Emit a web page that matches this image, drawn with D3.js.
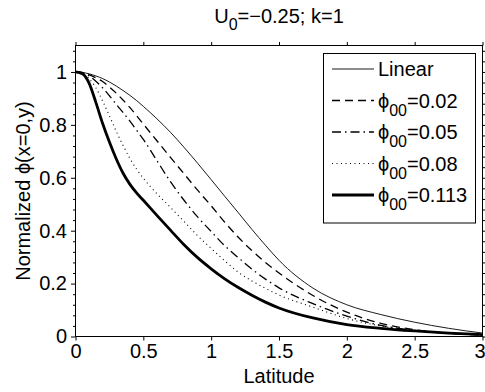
<!DOCTYPE html>
<html>
<head>
<meta charset="utf-8">
<script src="https://cdn.jsdelivr.net/npm/d3@7"></script>
<style>
body { margin: 0; background: #fff; }
svg { display: block; font-family: "Liberation Sans", Arial, sans-serif; }
</style>
</head>
<body>
<div id="chart"></div>
<script>
// data
const latitude = [0, 0.05, 0.1, 0.15, 0.2, 0.25, 0.3, 0.35, 0.4, 0.45, 0.5, 0.6, 0.7, 0.8, 0.9, 1.0,
                  1.1, 1.2, 1.3, 1.4, 1.5, 1.75, 2.0, 2.25, 2.5, 2.75, 3.0];
const phiLinear = [1, 0.998, 0.993, 0.985, 0.975, 0.962, 0.947, 0.93, 0.912, 0.892, 0.87, 0.823, 0.772, 0.715, 0.655, 0.593,
                   0.53, 0.468, 0.405, 0.345, 0.288, 0.183, 0.12, 0.083, 0.054, 0.031, 0.013];
const phi002 = [1, 0.998, 0.99, 0.978, 0.964, 0.943, 0.92, 0.894, 0.866, 0.835, 0.803, 0.74, 0.677, 0.615, 0.553, 0.494,
                0.432, 0.375, 0.325, 0.28, 0.24, 0.155, 0.092, 0.05, 0.026, 0.013, 0.006];
const phi005 = [1, 0.997, 0.985, 0.965, 0.94, 0.91, 0.878, 0.847, 0.815, 0.78, 0.745, 0.665, 0.585, 0.515, 0.452, 0.397,
                0.343, 0.298, 0.255, 0.217, 0.184, 0.124, 0.077, 0.042, 0.023, 0.012, 0.005];
const phi008 = [1, 0.995, 0.975, 0.94, 0.89, 0.834, 0.776, 0.723, 0.674, 0.633, 0.598, 0.54, 0.488, 0.435, 0.381, 0.333,
                0.286, 0.243, 0.21, 0.182, 0.157, 0.111, 0.068, 0.04, 0.022, 0.012, 0.006];
const phi0113 = [1, 0.993, 0.958, 0.885, 0.805, 0.735, 0.672, 0.618, 0.576, 0.543, 0.515, 0.458, 0.402, 0.347, 0.298, 0.256,
                 0.218, 0.185, 0.156, 0.13, 0.108, 0.07, 0.045, 0.031, 0.021, 0.013, 0.007];

const xTicks = [0, 0.5, 1, 1.5, 2, 2.5, 3];
const yTicks = [0, 0.2, 0.4, 0.6, 0.8, 1];
const yMinor = [0.04, 0.08, 0.12, 0.16, 0.24, 0.28, 0.32, 0.36, 0.44, 0.48, 0.52, 0.56,
                0.64, 0.68, 0.72, 0.76, 0.84, 0.88, 0.92, 0.96, 1.04, 1.08];
const legendNames = ["Linear", "0.02", "0.05", "0.08", "0.113"];

const width = 485, height = 392;
const plotLeft = 75.5, plotRight = 482.5, plotTop = 45.5, plotBottom = 336.5;
const fontSize = 20;

const svg = d3.select("#chart").append("svg")
    .attr("width", width)
    .attr("height", height);

const x = d3.scaleLinear().domain([0, 3]).range([plotLeft, plotRight]);
const y = d3.scaleLinear().domain([0, 1.1]).range([plotBottom, plotTop]);

// 線のスタイル
const series = [
    { values: phiLinear, width: 0.9, dash: null },
    { values: phi002, width: 1.3, dash: "8,5" },
    { values: phi005, width: 1.3, dash: "9,4,1.5,4" },
    { values: phi008, width: 1.1, dash: "1,3.5" },
    { values: phi0113, width: 2.8, dash: null }
];

const line = d3.line()
    .x((d, i) => x(latitude[i]))
    .y(d => y(d))
    .curve(d3.curveMonotoneX);

const plot = svg.append("g");
plot.append("defs").append("clipPath").attr("id", "clip")
    .append("rect").attr("x", plotLeft).attr("y", plotTop)
    .attr("width", plotRight - plotLeft).attr("height", plotBottom - plotTop);

plot.selectAll(".series")
    .data(series)
    .enter()
    .append("path")
    .attr("class", "series")
    .attr("clip-path", "url(#clip)")
    .attr("d", d => line(d.values))
    .attr("fill", "none")
    .attr("stroke", "#000")
    .attr("stroke-width", d => d.width)
    .attr("stroke-dasharray", d => d.dash);

// 軸
function styleAxis(g) {
    g.select(".domain").remove();
    g.selectAll("line").attr("stroke", "#000").attr("stroke-width", 1);
    g.selectAll("text").attr("fill", "#000").style("font-size", fontSize + "px");
}

const xAxisG = svg.append("g")
    .attr("transform", `translate(0,${plotBottom})`)
    .call(d3.axisBottom(x).tickValues(xTicks).tickSize(4).tickPadding(3).tickFormat(d => d))
    .call(styleAxis);
// 右端の「3」は枠からはみ出さないよう寄せる
xAxisG.selectAll(".tick text").filter(d => d === 3)
    .attr("text-anchor", "end").attr("x", 2.5);

svg.append("g")
    .attr("transform", `translate(0,${plotTop})`)
    .call(d3.axisTop(x).tickValues(xTicks).tickSize(3.5).tickFormat(""))
    .call(styleAxis);
svg.append("g")
    .attr("transform", `translate(${plotLeft},0)`)
    .call(d3.axisLeft(y).tickValues(yTicks).tickSize(4.5).tickPadding(4).tickFormat(d => d))
    .call(styleAxis);
svg.append("g")
    .attr("transform", `translate(${plotLeft},0)`)
    .call(d3.axisLeft(y).tickValues(yMinor).tickSize(2.5).tickFormat(""))
    .call(styleAxis);
svg.append("g")
    .attr("transform", `translate(${plotRight},0)`)
    .call(d3.axisRight(y).tickValues(yTicks).tickSize(4.5).tickFormat(""))
    .call(styleAxis);
svg.append("g")
    .attr("transform", `translate(${plotRight},0)`)
    .call(d3.axisRight(y).tickValues(yMinor).tickSize(2.5).tickFormat(""))
    .call(styleAxis);

// 枠
svg.append("rect")
    .attr("x", plotLeft).attr("y", plotTop)
    .attr("width", plotRight - plotLeft).attr("height", plotBottom - plotTop)
    .attr("fill", "none").attr("stroke", "#000").attr("stroke-width", 1);

// タイトル
const title = svg.append("text")
    .attr("x", (plotLeft + plotRight) / 2)
    .attr("y", 23)
    .attr("text-anchor", "middle")
    .style("font-size", fontSize + "px");
title.append("tspan").text("U");
title.append("tspan").attr("dy", 7).style("font-size", "16px").text("0");
title.append("tspan").attr("dy", -7).text("=\u22120.25; k=1");

// 軸ラベル
svg.append("text")
    .attr("x", (plotLeft + plotRight) / 2)
    .attr("y", 383)
    .attr("text-anchor", "middle")
    .style("font-size", fontSize + "px")
    .text("Latitude");

svg.append("text")
    .attr("transform", `translate(30,${(plotTop + plotBottom) / 2}) rotate(-90)`)
    .attr("text-anchor", "middle")
    .style("font-size", fontSize + "px")
    .text("Normalized \u03d5(x=0,y)");

// 凡例
const legend = svg.append("g");
legend.append("rect")
    .attr("x", 323.5).attr("y", 53.5)
    .attr("width", 152).attr("height", 169.5)
    .attr("fill", "#fff").attr("stroke", "#000").attr("stroke-width", 1);

const rowY = i => 69 + i * 31.5;

legendNames.forEach((name, i) => {
    const s = series[i];
    legend.append("line")
        .attr("x1", 332).attr("x2", 374)
        .attr("y1", rowY(i)).attr("y2", rowY(i))
        .attr("stroke", "#000")
        .attr("stroke-width", s.width)
        .attr("stroke-dasharray", s.dash);
    const t = legend.append("text")
        .attr("x", 378)
        .attr("y", rowY(i) + 7)
        .style("font-size", fontSize + "px");
    if (i === 0) {
        t.text(name);
    } else {
        t.append("tspan").text("\u03d5");
        t.append("tspan").attr("dy", 8).style("font-size", "16px").text("00");
        t.append("tspan").attr("dy", -8).text("=" + name);
    }
});
</script>
</body>
</html>
